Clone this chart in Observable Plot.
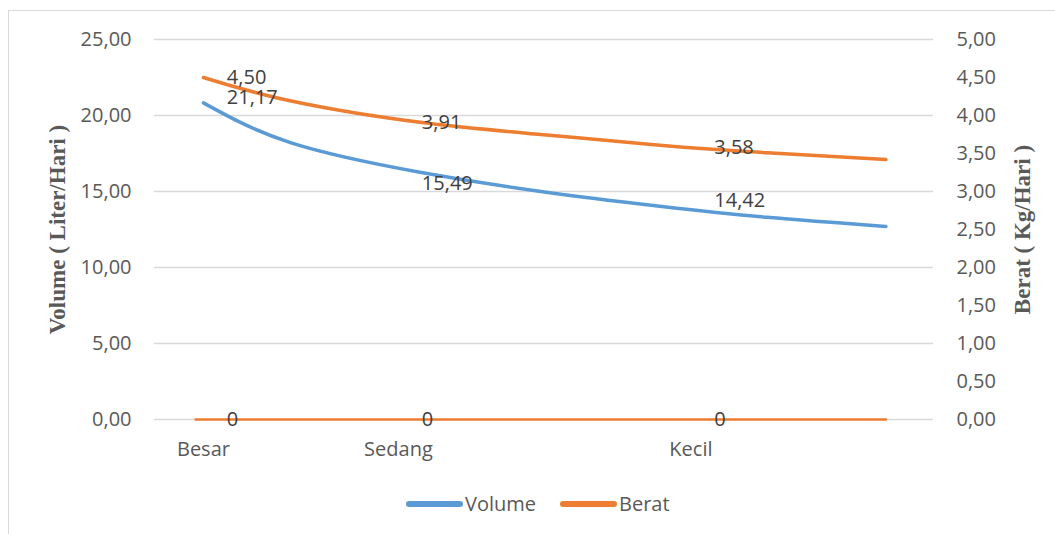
<!DOCTYPE html>
<html>
<head>
<meta charset="utf-8">
<script src="https://cdn.jsdelivr.net/npm/d3@7"></script>
<script src="https://cdn.jsdelivr.net/npm/@observablehq/plot@0.6"></script>
<style>
  html, body { margin: 0; padding: 0; background: #fff; overflow: hidden; }
  #wrap { position: relative; width: 1055px; height: 534px; overflow: hidden; background: #fff; }
  #border { position: absolute; left: 8px; top: 10px; width: 1060px; height: 540px; border: 1px solid #d9d9d9; box-sizing: border-box; }
  #chart { position: absolute; left: 0; top: 0; }
  #legend { position: absolute; left: 406px; top: 490px; display: flex; align-items: center; font-family: "Open Sans", sans-serif; font-size: 20px; color: #595959; }
  .sw { display: inline-block; width: 57px; height: 6px; border-radius: 3px; margin-right: 2px; }
  .item { display: flex; align-items: center; margin-right: 24px; }
</style>
</head>
<body>
<div id="wrap">
  <div id="border"></div>
  <div id="chart"></div>
  <div id="legend"></div>
</div>
<script>
// ---- data ----
const categories = ["Besar", "Sedang", "Kecil"];
const categoryPos = [1, 2, 3.5];
const labelPos = [1.12, 2.12, 3.62];
const volume = [21.17, 15.49, 14.42];
const berat = [4.50, 3.91, 3.58];
const zeroValues = [0, 0, 0];

// trend curves
const trendX = [1, 1.45, 2.11, 2.73, 3.34, 3.89, 4.5];
const volumeTrend = [20.83, 18.2, 16.27, 15.0, 14.03, 13.3, 12.70];
const beratTrend = [4.50, 4.19, 3.91, 3.75, 3.61, 3.51, 3.42];
const zeroLineX = [0.96, 4.5];
const zeroLineY = [0, 0];

const volumeTicks = [0, 5, 10, 15, 20, 25];
const beratTicks = [0, 0.5, 1, 1.5, 2, 2.5, 3, 3.5, 4, 4.5, 5];

const seriesNames = ["Volume", "Berat"];
const seriesColors = ["#5b9bd5", "#ed7d31"];

// ---- helpers ----
const ratio = 5; // 25 / 5
const fmt2 = d => d3.format(".2f")(d).replace(".", ",");

const volTrendData = trendX.map((x, i) => ({x, y: volumeTrend[i]}));
const berTrendData = trendX.map((x, i) => ({x, y: beratTrend[i] * ratio}));
const zeroData = zeroLineX.map((x, i) => ({x, y: zeroLineY[i]}));
const volLabels = labelPos.map((x, i) => ({x, y: volume[i], t: fmt2(volume[i])}));
const berLabels = labelPos.map((x, i) => ({x, y: berat[i] * ratio, t: fmt2(berat[i])}));
const zeroLabels = labelPos.map((x, i) => ({x, y: zeroValues[i], t: String(zeroValues[i])}));

const chart = Plot.plot({
  width: 1055,
  height: 470,
  marginLeft: 154,
  marginRight: 122,
  marginTop: 39,
  marginBottom: 51,
  style: {fontFamily: "Open Sans, sans-serif", fontSize: "20px", color: "#595959", background: "transparent"},
  x: {domain: [0.749, 4.744]},
  y: {domain: [0, 25]},
  marks: [
    Plot.gridY(volumeTicks, {stroke: "#d9d9d9", strokeOpacity: 1, strokeWidth: 1.5}),
    Plot.axisY({anchor: "left", ticks: volumeTicks, tickFormat: fmt2, tickSize: 0, tickPadding: 23, label: null, fill: "#595959"}),
    Plot.axisY({anchor: "right", ticks: beratTicks.map(v => v * ratio), tickFormat: d => fmt2(d / ratio), tickSize: 0, tickPadding: 23, label: null, fill: "#595959"}),
    Plot.axisX({ticks: categoryPos, tickFormat: d => categories[categoryPos.indexOf(d)], tickSize: 0, tickPadding: 22, label: null, fill: "#595959"}),
    Plot.line(zeroData, {x: "x", y: "y", stroke: seriesColors[1], strokeWidth: 2.5}),
    Plot.line(volTrendData, {x: "x", y: "y", stroke: seriesColors[0], strokeWidth: 3.5, strokeLinecap: "round", curve: "natural"}),
    Plot.line(berTrendData, {x: "x", y: "y", stroke: seriesColors[1], strokeWidth: 3.5, strokeLinecap: "round", curve: "natural"}),
    Plot.text(volLabels, {x: "x", y: "y", text: "t", textAnchor: "start", fill: "#404040", fontSize: 20}),
    Plot.text(berLabels, {x: "x", y: "y", text: "t", textAnchor: "start", fill: "#404040", fontSize: 20}),
    Plot.text(zeroLabels, {x: "x", y: "y", text: "t", textAnchor: "start", fill: "#404040", fontSize: 20}),
    Plot.text(["Volume ( Liter/Hari )"], {text: d => d, frameAnchor: "left", textAnchor: "middle", dx: -97, rotate: -90, fontFamily: "Liberation Serif, serif", fontWeight: "bold", fontSize: 23, fill: "#595959"}),
    Plot.text(["Berat ( Kg/Hari )"], {text: d => d, frameAnchor: "right", textAnchor: "middle", dx: 89, rotate: -90, fontFamily: "Liberation Serif, serif", fontWeight: "bold", fontSize: 23, fill: "#595959"})
  ]
});
document.getElementById("chart").appendChild(chart);

const legend = document.getElementById("legend");
seriesNames.forEach((name, i) => {
  const item = document.createElement("span");
  item.className = "item";
  const sw = document.createElement("span");
  sw.className = "sw";
  sw.style.background = seriesColors[i];
  item.appendChild(sw);
  item.appendChild(document.createTextNode(name));
  legend.appendChild(item);
});
</script>
</body>
</html>
